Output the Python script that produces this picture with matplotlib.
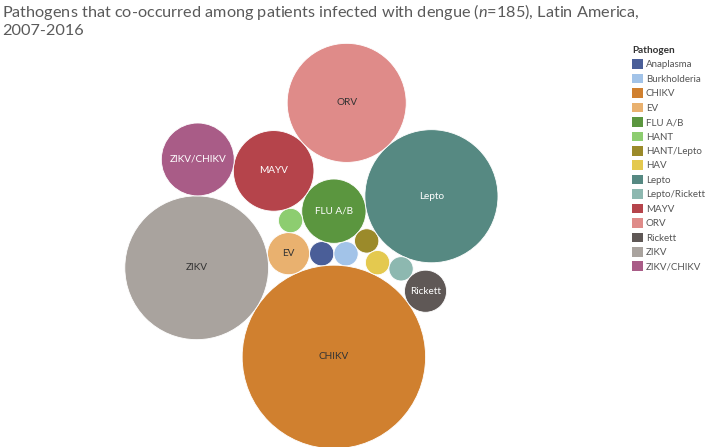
import numpy as np
import matplotlib
matplotlib.use('Agg')
import matplotlib.pyplot as plt
from matplotlib.patches import Circle, Patch

plt.rcParams['font.family'] = ['Lato', 'DejaVu Sans']
plt.rcParams['mathtext.fontset'] = 'custom'
plt.rcParams['mathtext.it'] = 'Lato:italic'
plt.rcParams['mathtext.rm'] = 'Lato'

# data (bubble areas ~ counts)
pathogens = ['Anaplasma', 'Burkholderia', 'CHIKV', 'EV', 'FLU A/B', 'HANT',
             'HANT/Lepto', 'HAV', 'Lepto', 'Lepto/Rickett', 'MAYV', 'ORV',
             'Rickett', 'ZIKV', 'ZIKV/CHIKV']
counts = [1, 1, 57, 3, 7, 1, 1, 1, 30, 1, 11, 24, 3, 35, 9]
colors = ['#4a5e98', '#a2c3e8', '#d0802f', '#e9b16f', '#5b963f', '#8dcd70',
          '#9b8a2a', '#e4c94f', '#568982', '#8db8b0', '#b5444b', '#df8b89',
          '#5f5856', '#a9a39e', '#a95c87']
dark_text = ['CHIKV', 'EV', 'ORV', 'ZIKV']

# which two already-packed bubbles each bubble is nested against
# (same packing order as the source chart: alphabetical)
anchors = {
    'Burkholderia': ('Anaplasma', None),
    'CHIKV': ('Burkholderia', 'Anaplasma'),
    'EV': ('CHIKV', 'Anaplasma'),
    'FLU A/B': ('Anaplasma', 'Burkholderia'),
    'HANT': ('EV', 'FLU A/B'),
    'HANT/Lepto': ('FLU A/B', 'Burkholderia'),
    'HAV': ('HANT/Lepto', 'CHIKV'),
    'Lepto': ('FLU A/B', 'HANT/Lepto'),
    'Lepto/Rickett': ('Lepto', 'HAV'),
    'MAYV': ('HANT', 'FLU A/B'),
    'ORV': ('MAYV', 'Lepto'),
    'Rickett': ('Lepto/Rickett', 'CHIKV'),
    'ZIKV': ('CHIKV', 'EV'),
    'ZIKV/CHIKV': ('ZIKV', 'MAYV'),
}

title = ('Pathogens that co-occurred among patients infected with dengue '
         '($\\it{n}$=185), Latin America,\n2007-2016')


def tangent(p, q, r):
    # centre of a circle of radius r touching p and q, on the outer side of p->q
    v = q[:2] - p[:2]
    d = np.hypot(*v)
    u = v / d
    a = p[2] + r
    b = q[2] + r
    x = (d * d + a * a - b * b) / (2 * d)
    h = np.sqrt(max(0, a * a - x * x))
    return p[:2] + x * u + h * np.array([u[1], -u[0]])


def pack(names, radii):
    pos = {}
    for name, r in zip(names, radii):
        if not pos:
            pos[name] = np.array([0.0, 0.0, r])
            continue
        p, q = anchors[name]
        if q is None:
            c = pos[p][:2] + np.array([pos[p][2] + r, 0.0])
        else:
            c = tangent(pos[p], pos[q], r)
        pos[name] = np.array([c[0], c[1], r])
    return np.array([pos[n] for n in names])


radii = 12.15 * np.sqrt(np.array(counts, dtype=float))
circles = pack(pathogens, radii)

fig = plt.figure(figsize=(7.05, 4.47), dpi=100)
ax = fig.add_axes([0, 0, 1, 1])

for (x, y, r), name, col in zip(circles, pathogens, colors):
    ax.add_patch(Circle((x, y), r, facecolor=col, edgecolor='white', linewidth=0.6))
    if r > 18:
        tc = '#333333' if name in dark_text else 'white'
        ax.text(x, y, name, ha='center', va='center', fontsize=7.2, color=tc)

# centre the packed layout in the plot area
xmin = (circles[:, 0] - circles[:, 2]).min()
xmax = (circles[:, 0] + circles[:, 2]).max()
ymin = (circles[:, 1] - circles[:, 2]).min()
ymax = (circles[:, 1] + circles[:, 2]).max()
cx = (xmin + xmax) / 2
cy = (ymin + ymax) / 2
ax.set_xlim(cx - 311.4, cx - 311.4 + 705)
ax.set_ylim(cy - 246 + 447, cy - 246)
ax.axis('off')

fig.text(0.003, 1 - 2 / 447, title, ha='left', va='top', fontsize=11.7,
         color='#5a5a5a', linespacing=1.18)

handles = [Patch(facecolor=c, edgecolor='none') for c in colors]
leg = fig.legend(handles, pathogens, loc='upper left',
                 bbox_to_anchor=(632 / 705, 1 - 46 / 447), frameon=False,
                 fontsize=7, title='Pathogen',
                 title_fontproperties={'weight': 'bold', 'size': 7.2},
                 handlelength=1.13, handleheight=1.13, handletextpad=0.3,
                 labelspacing=0.45, borderpad=0, borderaxespad=0, alignment='left')
for t in leg.get_texts():
    t.set_color('#555555')
leg.get_title().set_color('#333333')

fig.savefig('out.png', dpi=100)
